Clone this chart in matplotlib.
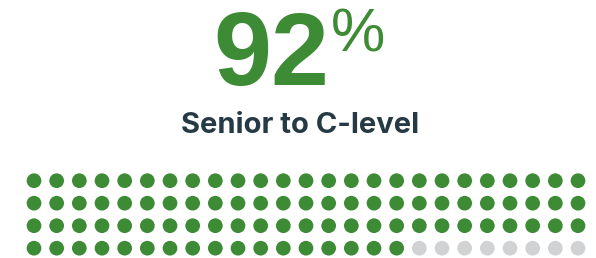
import matplotlib.pyplot as plt
import numpy as np

# data
share = 92
label = "Senior to C-level"
n_rows = 4
n_cols = 25

green = "#3d8b35"
grey = "#d1d2d4"
dark = "#263a45"

fig = plt.figure(figsize=(5.96, 2.58), dpi=100)
ax = fig.add_axes([0, 0, 1, 1])
ax.set_xlim(0, 596)
ax.set_ylim(258, 0)
ax.axis("off")

# dot grid, filled row by row
idx = np.arange(n_rows * n_cols)
cols = idx % n_cols
rows = idx // n_cols
xs = 34 + cols * (544 / (n_cols - 1))
ys = 180.7 + rows * 22.5
colors = [green if i < share else grey for i in idx]
ax.scatter(xs, ys, s=112, c=colors, linewidths=0)

# headline number
ax.text(329, 85, str(share), color=green, fontsize=75, fontweight="bold",
        family="Liberation Sans", ha="right", va="baseline")
ax.text(331, 52, "%", color=green, fontsize=44,
        family="Liberation Sans", ha="left", va="baseline")

ax.text(300, 133.3, label, color=dark, fontsize=21, fontweight="bold",
        family="Inter", ha="center", va="baseline")

fig.savefig("out.png", dpi=100)
